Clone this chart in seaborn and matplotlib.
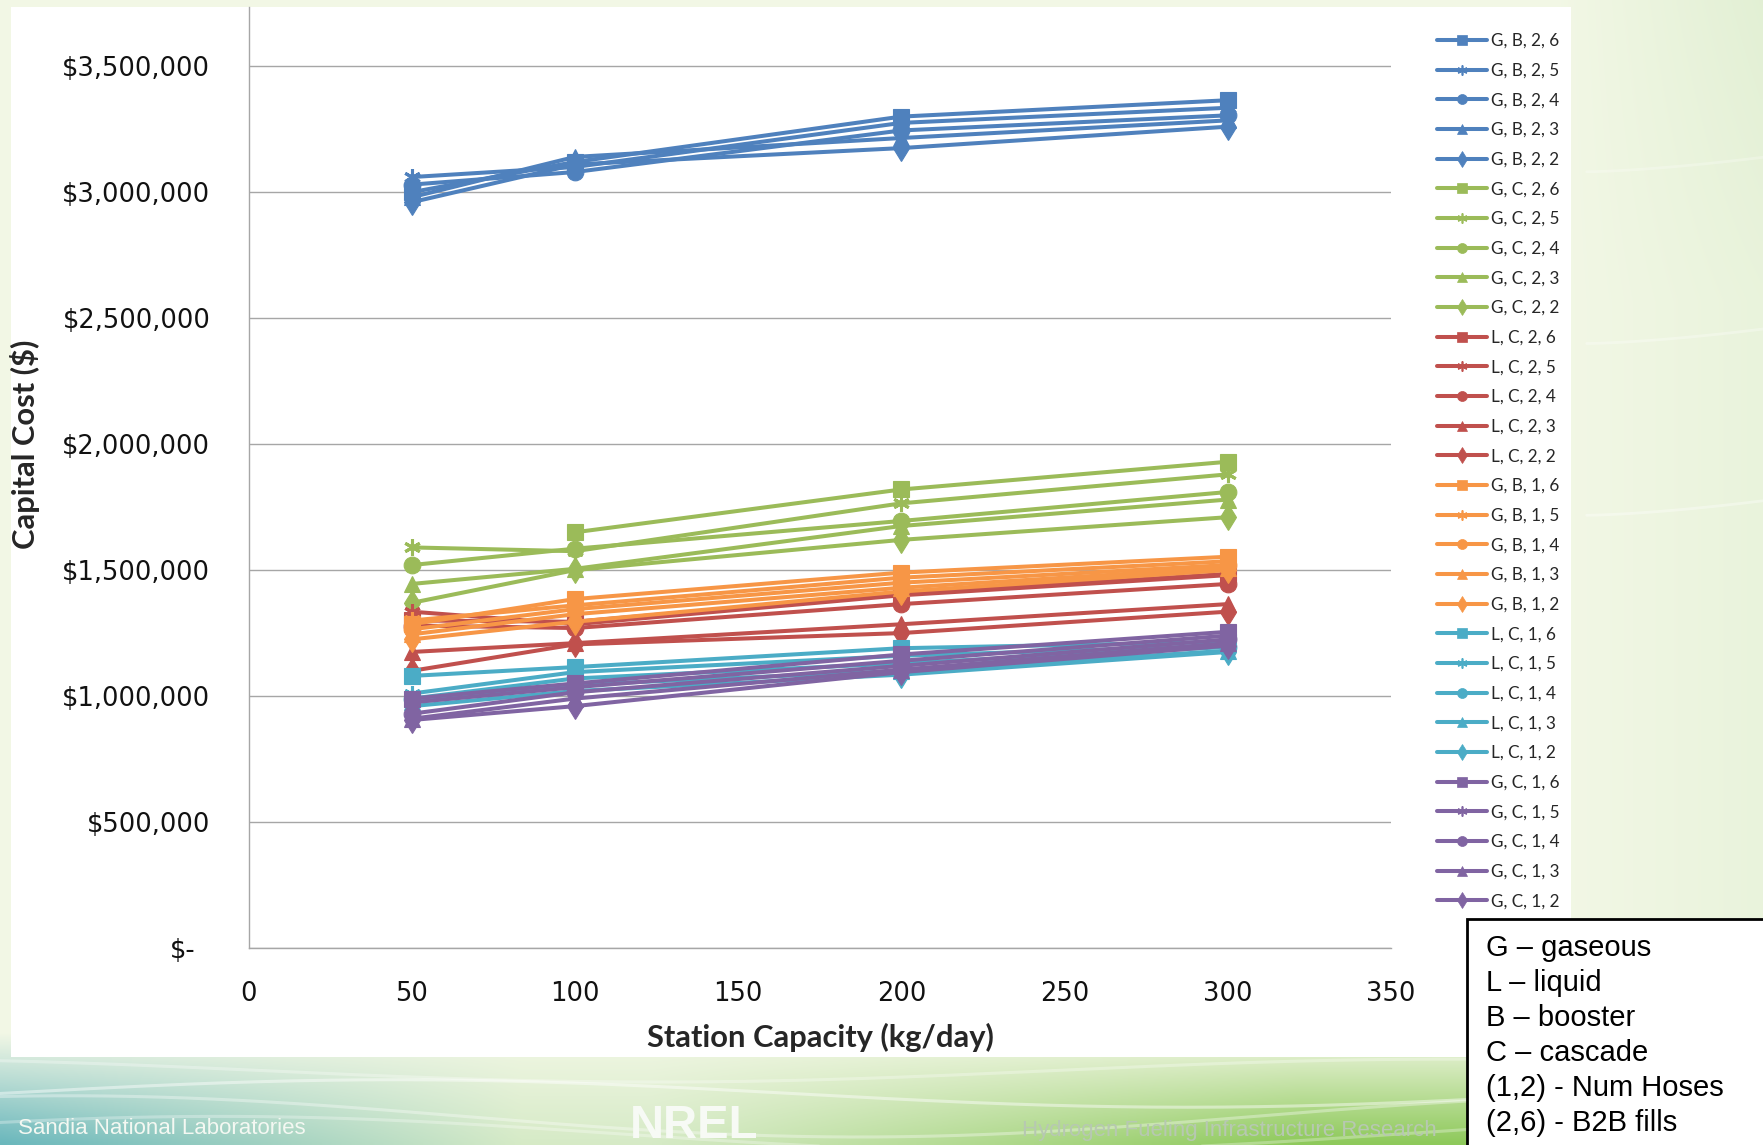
import numpy as np
import pandas as pd
import matplotlib
matplotlib.use("Agg")
import matplotlib.pyplot as plt
from matplotlib.lines import Line2D
from matplotlib.patches import Rectangle
from matplotlib.transforms import ScaledTranslation
import seaborn as sns

# ---------------------------------------------------------------- data
capacity = [50, 100, 200, 300]          # station capacity, kg/day

# capital cost in $ millions, one row per B2B-fill setting (6, 5, 4, 3, 2)
g_b_2 = [[3.000, 3.120, 3.300, 3.365],
         [3.060, 3.100, 3.275, 3.335],
         [3.030, 3.080, 3.245, 3.305],
         [2.980, 3.140, 3.215, 3.285],
         [2.960, 3.110, 3.175, 3.260]]
g_c_2 = [[np.nan, 1.650, 1.820, 1.930],
         [1.590, 1.575, 1.765, 1.880],
         [1.520, 1.585, 1.695, 1.810],
         [1.445, 1.505, 1.675, 1.780],
         [1.370, 1.500, 1.620, 1.710]]
l_c_2 = [[1.300, 1.295, 1.405, 1.485],
         [1.335, 1.285, 1.400, 1.480],
         [1.280, 1.270, 1.365, 1.445],
         [1.175, 1.210, 1.285, 1.365],
         [1.100, 1.205, 1.250, 1.335]]
g_b_1 = [[1.285, 1.385, 1.490, 1.553],
         [1.300, 1.360, 1.470, 1.535],
         [1.265, 1.345, 1.450, 1.520],
         [1.245, 1.325, 1.430, 1.510],
         [1.225, 1.295, 1.415, 1.500]]
l_c_1 = [[1.080, 1.115, 1.190, 1.215],
         [1.010, 1.095, 1.160, 1.200],
         [0.990, 1.070, 1.130, 1.195],
         [0.975, 1.045, 1.100, 1.180],
         [0.960, 1.020, 1.085, 1.175]]
g_c_1 = [[0.990, 1.050, 1.165, 1.255],
         [0.975, 1.035, 1.140, 1.240],
         [0.930, 1.015, 1.120, 1.225],
         [0.910, 0.990, 1.105, 1.210],
         [0.905, 0.960, 1.095, 1.200]]

group_values = [g_b_2, g_c_2, l_c_2, g_b_1, l_c_1, g_c_1]
group_prefix = ["G, B, 2", "G, C, 2", "L, C, 2", "G, B, 1", "L, C, 1", "G, C, 1"]
group_colors = ["#4F81BD", "#9BBB59", "#C0504D", "#F79646", "#4BACC6", "#8064A2"]
b2b_fills = [6, 5, 4, 3, 2]
fill_markers = ["s", (6, 2, 0), "o", "^", "d"]
fill_msize = [11.5, 12, 12, 12, 13]

x_ticks = [0, 50, 100, 150, 200, 250, 300, 350]
x_tick_labels = ["0", "50", "100", "150", "200", "250", "300", "350"]
y_ticks = [0, 500000, 1000000, 1500000, 2000000, 2500000, 3000000, 3500000]
y_tick_labels = ["$-", "$500,000", "$1,000,000", "$1,500,000", "$2,000,000",
                 "$2,500,000", "$3,000,000", "$3,500,000"]

key_lines = ["G \u2013 gaseous", "L \u2013 liquid", "B \u2013 booster",
             "C \u2013 cascade", "(1,2) - Num Hoses", "(2,6) - B2B fills"]

# long-form table for seaborn
rows = []
series_names, palette, marker_map, size_map = [], {}, {}, {}
for prefix, color, block in zip(group_prefix, group_colors, group_values):
    for fill, mk, ms, vals in zip(b2b_fills, fill_markers, fill_msize, block):
        name = f"{prefix}, {fill}"
        series_names.append(name)
        palette[name] = color
        marker_map[name] = mk
        size_map[name] = ms
        for cap, v in zip(capacity, vals):
            rows.append({"series": name, "capacity": cap, "cost": v * 1e6})
df = pd.DataFrame(rows)

# seaborn wants all-filled markers; the asterisk is swapped in afterwards
sns_markers = {n: ("X" if isinstance(m, tuple) else m) for n, m in marker_map.items()}

# ---------------------------------------------------------------- figure
sns.set_theme(style="white")
plt.rcParams["font.family"] = ["DejaVu Sans"]

W, H = 1763, 1145
fig = plt.figure(figsize=(W / 100, H / 100), dpi=100)

# slide background: pale top, teal/green band along the bottom
bg = fig.add_axes([0, 0, 1, 1], zorder=-10)
bg.set_axis_off()
yy, xx = np.mgrid[0:1:230j, 0:1:353j]
py, px = yy * H, xx * W
light = np.array([0.95, 0.97, 0.90])
teal = np.array([0.42, 0.72, 0.74])
pale = np.array([0.84, 0.92, 0.78])
green = np.array([0.56, 0.79, 0.36])
b = np.clip((py - 1035) / 110, 0, 1)[..., None]
wt = np.clip(1 - px / 520, 0, 1)[..., None]
wg = np.clip((px - 650) / 650, 0, 1)[..., None]
bottom = teal * wt + green * wg + pale * (1 - wt - wg)
rside = (np.clip((px - 1560) / 220, 0, 1) * (0.25 + 0.2 * np.clip(1 - py / 300, 0, 1)))[..., None]
top = light * (1 - rside) + np.array([0.80, 0.90, 0.74]) * rside
img = top * (1 - b) + bottom * b
bg.imshow(img, extent=[0, 1, 0, 1], aspect="auto", interpolation="bilinear",
          transform=bg.transAxes)
sx = np.linspace(0, 1, 200)
for amp, off, ph, al in [(0.012, 0.045, 0.0, 0.45), (0.018, 0.025, 1.3, 0.35),
                         (0.010, 0.065, 2.1, 0.30), (0.015, 0.010, 0.7, 0.30)]:
    bg.plot(sx, off + amp * np.sin(sx * 7 + ph), color="white", lw=2.2,
            alpha=al, transform=bg.transAxes)
for off, al in [(0.55, 0.35), (0.70, 0.30), (0.85, 0.25)]:
    rx = np.linspace(0.9, 1.0, 50)
    bg.plot(rx, off + 0.4 * (rx - 0.9) ** 1.5, color="white", lw=2,
            alpha=al, transform=bg.transAxes)
bg.set_xlim(0, 1)
bg.set_ylim(0, 1)

# white chart area
fig.add_artist(Rectangle((11 / W, 1 - 1057 / H), (1571 - 11) / W, (1057 - 7) / H,
                         transform=fig.transFigure, facecolor="white",
                         edgecolor="none", zorder=-5))

ax = fig.add_axes([248.5 / W, 1 - 948 / H, (1391 - 248.5) / W, (948 - 7) / H])
ax.set_facecolor("none")

sns.lineplot(data=df, x="capacity", y="cost", hue="series", style="series",
             hue_order=series_names, style_order=series_names,
             palette=palette, markers=sns_markers, dashes=False,
             estimator=None, sort=False, linewidth=2.9, markersize=11,
             legend=False, ax=ax)

for line, name in zip(ax.lines, series_names):
    c = palette[name]
    line.set_marker(marker_map[name])
    line.set_markeredgecolor(c)
    line.set_markerfacecolor(c)
    line.set_markersize(size_map[name])
    line.set_markeredgewidth(2.2 if isinstance(marker_map[name], tuple) else 0.8)
    line.set_solid_capstyle("round")

ax.set_xlim(0, 350)
ax.set_ylim(0, 3735000)
ax.set_xticks(x_ticks)
ax.set_xticklabels(x_tick_labels)
ax.set_yticks(y_ticks)
ax.set_yticklabels(y_tick_labels)
ax.set_xlabel("")
ax.set_ylabel("")

grid_c = "#A6A6A6"
ax.grid(axis="y", color=grid_c, linewidth=1.0)
ax.grid(axis="x", visible=False)
ax.set_axisbelow(True)
for s in ["top", "right"]:
    ax.spines[s].set_visible(False)
for s in ["left", "bottom"]:
    ax.spines[s].set_color(grid_c)
    ax.spines[s].set_linewidth(1.0)
ax.tick_params(axis="both", which="major", direction="out", length=6.5,
               width=1.0, color=grid_c, labelsize=18.5, labelcolor="#111111")
ax.tick_params(axis="y", pad=21)
ax.tick_params(axis="x", pad=17)
# accounting-style zero label sits a little left of the others
zero_lbl = ax.get_yticklabels()[0]
zero_lbl.set_transform(zero_lbl.get_transform() +
                       ScaledTranslation(-15 / 100, 0, fig.dpi_scale_trans))

# axis titles
fig.text(820 / W, 1 - 1037 / H, "Station Capacity (kg/day)", ha="center",
         va="center", fontsize=22.2, fontweight="bold", family=["Lato", "DejaVu Sans"])
fig.text(25 / W, 1 - 444 / H, "Capital Cost ($)", ha="center", va="center",
         rotation=90, fontsize=22.2, fontweight="bold", family=["Lato", "DejaVu Sans"])

# series legend
handles = [Line2D([], [], color=palette[n], marker=marker_map[n],
                  markersize=size_map[n] * 0.6, markeredgecolor=palette[n],
                  markeredgewidth=1.2 if isinstance(marker_map[n], tuple) else 0.5,
                  linewidth=2.9) for n in series_names]
fig.legend(handles, series_names, loc="upper left",
           bbox_to_anchor=(1437 / W, 1 - 33 / H), frameon=False,
           prop={"family": ["Lato", "DejaVu Sans"], "size": 12.3},
           handlelength=2.95, handletextpad=0.2, labelspacing=0.80,
           borderpad=0, borderaxespad=0)

# footer lettering
fig.text(18 / W, 1 - 1118 / H, "Sandia National Laboratories", ha="left",
         va="top", fontsize=16, color="#F4F8F2", family=["Liberation Sans"])
fig.text(630 / W, 1 - 1104 / H, "NREL", ha="left", va="top", fontsize=34,
         fontweight="bold", color="#F7FAF5", family=["Liberation Sans"])
fig.text(1022 / W, 1 - 1120 / H, "Hydrogen Fueling Infrastructure Research",
         ha="left", va="top", fontsize=16, color="#B7C8B2",
         family=["Liberation Sans"])

# abbreviation key box
fig.add_artist(Rectangle((1467 / W, -0.02), (W - 1467) / W + 0.02,
                         (1145 - 918.6) / H + 0.02, transform=fig.transFigure,
                         facecolor="white", edgecolor="black", linewidth=2,
                         zorder=10))
for i, t in enumerate(key_lines):
    fig.text(1486 / W, 1 - (948 + i * 35) / H, t, ha="left", va="center",
             fontsize=21, color="black", family=["Liberation Sans", "DejaVu Sans"],
             zorder=11)

fig.savefig("out.png", dpi=100)
